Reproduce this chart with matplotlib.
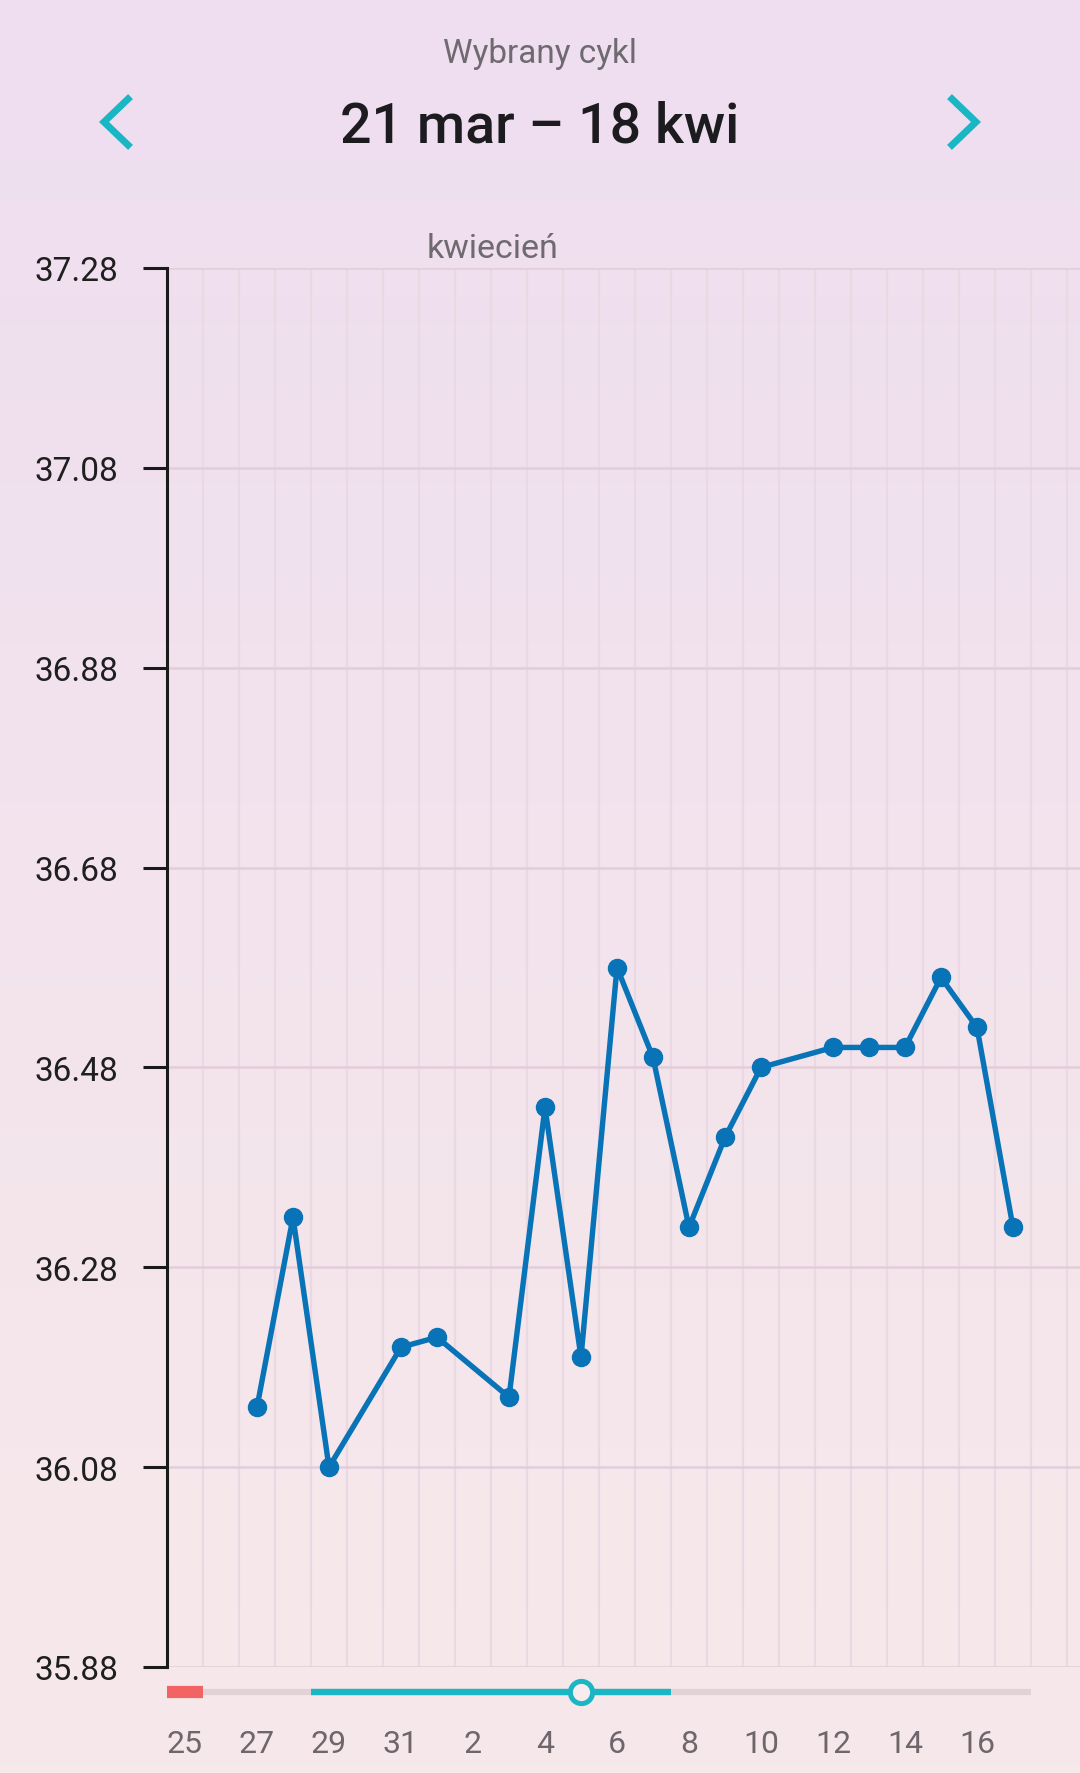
import numpy as np
import matplotlib
matplotlib.use('Agg')
import matplotlib.pyplot as plt
from matplotlib.ticker import FixedLocator

plt.rcParams['font.family'] = ['Roboto', 'DejaVu Sans']

# days shown on the chart, 25 mar .. 17 apr
days = ['25', '26', '27', '28', '29', '30', '31',
        '1', '2', '3', '4', '5', '6', '7', '8', '9', '10',
        '11', '12', '13', '14', '15', '16', '17']
# measured temperatures (day label, value); 30 mar, 2 apr, 11 apr missing
meas_days = ['27', '28', '29', '31', '1', '3', '4', '5', '6', '7', '8',
             '9', '10', '12', '13', '14', '15', '16', '17']
meas_month = ['mar'] * 4 + ['kwi'] * 15
temps = [36.14, 36.33, 36.08, 36.20, 36.21, 36.15, 36.44, 36.19, 36.58,
         36.49, 36.32, 36.41, 36.48, 36.50, 36.50, 36.50, 36.57, 36.52, 36.32]
yticks = [35.88, 36.08, 36.28, 36.48, 36.68, 36.88, 37.08, 37.28]
label_days = days[0:23:2]

period_days = (0, 0)      # red bar
fertile_days = (4, 13)    # teal bar
ovulation_day = 11        # circle

def day_index(d, m):
    if m == 'mar':
        return days.index(d)
    return days.index(d, 7)

xs = [day_index(d, m) for d, m in zip(meas_days, meas_month)]

W, H = 1080, 1774
fig = plt.figure(figsize=(W / 100, H / 100), dpi=100)

# background gradient
bg = fig.add_axes([0, 0, 1, 1], zorder=-10)
top = np.array([0xEE, 0xDE, 0xF0]) / 255
bot = np.array([0xF7, 0xE9, 0xEA]) / 255
t = np.linspace(0, 1, 256)[:, None]
grad = top[None, :] * (1 - t) + bot[None, :] * t
bg.imshow(grad[:, None, :].repeat(2, axis=1), aspect='auto', extent=[0, 1, 0, 1])
bg.set_axis_off()

# header
fig.text(0.5, 1 - 54 / H, 'Wybrany cykl', ha='center', va='center',
         fontsize=24, color='#6f6a70')
fig.text(0.5, 1 - 127 / H, '21 mar – 18 kwi', ha='center', va='center',
         fontsize=40, color='#1c1b1f', fontweight='medium')
teal = '#1AB6C3'
for cx, s in ((116, 1), (964, -1)):
    fig.add_artist(plt.Line2D([(cx + 12 * s) / W, (cx - 12 * s) / W, (cx + 12 * s) / W],
                              [1 - 100 / H, 1 - 123 / H, 1 - 146 / H],
                              color=teal, lw=5, solid_joinstyle='miter'))

# main chart
left, right_px, top_px, bot_px = 167, 1080, 269, 1668
ax = fig.add_axes([left / W, 1 - bot_px / H, (right_px - left) / W, (bot_px - top_px) / H])
ax.set_facecolor('none')
ax.set_xlim(-0.5, -0.5 + (right_px - left) / 36)
ax.set_ylim(35.88, 37.28)

ax.plot(xs, temps, color='#0873B7', lw=3.9, marker='o', ms=13, zorder=5, clip_on=False)

ax.set_yticks(yticks)
ax.set_yticklabels([f'{v:.2f}' for v in yticks])
ax.yaxis.grid(True, color='#E2CEDA', lw=1.8)
ax.xaxis.set_minor_locator(FixedLocator(np.arange(-0.5, 26, 1)))
ax.xaxis.grid(True, which='minor', color='#EAD8E3', lw=1.6)
ax.set_xticks(range(0, 23, 2))
ax.set_xticklabels(label_days)
ax.tick_params(axis='x', which='both', length=0, pad=45, labelsize=23, labelcolor='#6e666c')
ax.tick_params(axis='y', length=17, width=2.2, pad=18, labelsize=24,
               labelcolor='#1f1f1f', color='#1a1a1a')
for sp in ('top', 'right', 'bottom'):
    ax.spines[sp].set_visible(False)
ax.spines['left'].set_linewidth(2.2)
ax.spines['left'].set_color('#1a1a1a')
ax.set_axisbelow(True)

ax.text(6.7, 37.28 + 4 / 999, 'kwiecień', ha='left', va='bottom',
        fontsize=24.5, color='#6f6a70')

# cycle bar under the chart
sb = fig.add_axes([left / W, 1 - 1710 / H, (right_px - left) / W, 34 / H])
sb.set_xlim(ax.get_xlim())
sb.set_ylim(0, 1)
sb.set_axis_off()
sb.hlines(0.5, -0.5, 23.5, color='#E2D1D6', lw=4.4, capstyle='butt')
sb.hlines(0.5, period_days[0] - 0.5, period_days[1] + 0.5, color='#F26363', lw=8.8, capstyle='butt')
sb.hlines(0.5, fertile_days[0] - 0.5, fertile_days[1] + 0.5, color=teal, lw=4.6, capstyle='butt')
sb.plot([ovulation_day], [0.5], marker='o', ms=16, mew=3.6, mec=teal, mfc='#F8ECEF', clip_on=False)

fig.savefig('out.png', dpi=100)
